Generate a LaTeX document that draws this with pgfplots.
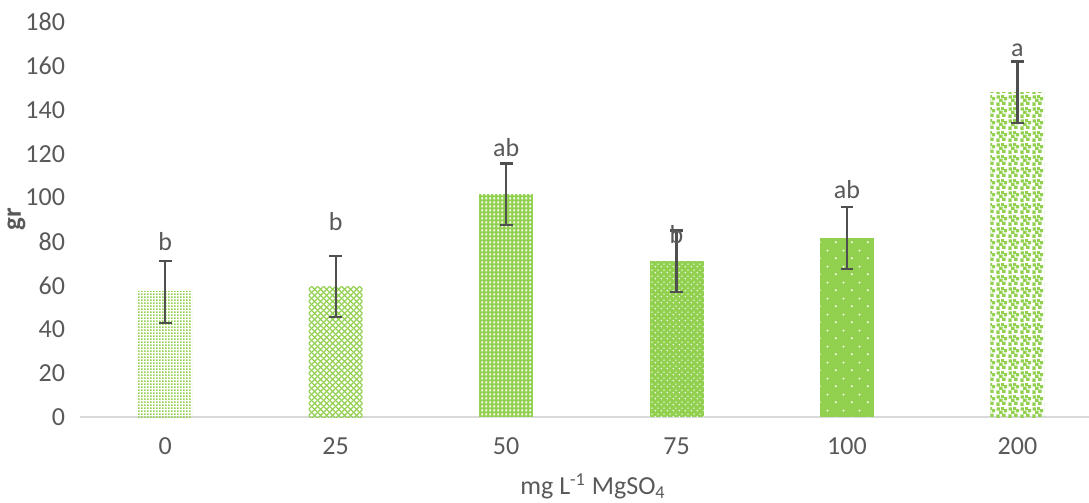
\documentclass[border=0pt]{standalone}
\usepackage{fontspec}
\setmainfont{Carlito}
\usepackage{pgfplots}
\pgfplotsset{compat=1.18}
\usetikzlibrary{patterns.meta}
\definecolor{grn}{HTML}{92D050}
\definecolor{txt}{HTML}{595959}
\definecolor{errc}{HTML}{505050}
\definecolor{axc}{HTML}{D9D9D9}
\tikzdeclarepattern{name=pA, type=uncolored, bounding box={(0,0) and (1.5pt,1.5pt)}, tile size={(1.5pt,1.5pt)},
  code={\fill (0,0) rectangle (1.0pt,1.0pt);}}
\tikzdeclarepattern{name=pB, type=uncolored, bounding box={(0,0) and (3pt,3pt)}, tile size={(3pt,3pt)},
  code={\draw[line width=0.75pt] (-0.5pt,-0.5pt) -- (3.5pt,3.5pt); \draw[line width=0.75pt] (-0.5pt,3.5pt) -- (3.5pt,-0.5pt);}}
\tikzdeclarepattern{name=pC, type=uncolored, bounding box={(0,0) and (2pt,1.8pt)}, tile size={(2pt,1.8pt)},
  code={\fill (0.8pt,0.4pt) rectangle (1.9pt,1.5pt);}}
\tikzdeclarepattern{name=pD, type=uncolored, bounding box={(0,0) and (3pt,3pt)}, tile size={(3pt,3pt)},
  code={\fill (0.75pt,0.75pt) circle (0.45pt); \fill (2.25pt,2.25pt) circle (0.45pt);}}
\tikzdeclarepattern{name=pE, type=uncolored, bounding box={(0,0) and (8pt,8pt)}, tile size={(8pt,8pt)},
  code={\fill (2pt,2pt) circle (0.55pt); \fill (6pt,6pt) circle (0.55pt);}}
\tikzdeclarepattern{name=pF, type=uncolored, bounding box={(0,0) and (6pt,6pt)}, tile size={(6pt,6pt)},
  code={\fill (0.2pt,0.1pt) rectangle ++(1.8pt,1.8pt);
        \fill (3.3pt,0.6pt) rectangle ++(1.8pt,1.8pt);
        \fill (1.7pt,2.2pt) rectangle ++(1.8pt,1.8pt);
        \fill (4.2pt,3.0pt) rectangle ++(1.8pt,1.8pt);
        \fill (0.3pt,4.0pt) rectangle ++(1.8pt,1.8pt);
        \fill (2.7pt,4.3pt) rectangle ++(1.6pt,1.6pt);}}
\pgfplotsset{eb/.style={bar shift=0pt, draw=none,
  error bars/.cd, y dir=both, y explicit,
  error bar style={errc, line width=1.1pt},
  error mark options={errc, rotate=90, mark size=3.2pt, line width=1.1pt}}}
\newcommand{\lf}{\fontsize{13}{15}\selectfont}
\begin{document}
\begin{tikzpicture}
\begin{axis}[
  scale only axis, width=504.5pt, height=197.5pt,
  ybar, bar width=27pt,
  xmin=-0.5, xmax=5.42, ymin=0, ymax=180,
  axis x line=bottom, axis y line=left,
  y axis line style={draw=none},
  x axis line style={draw=axc, line width=0.8pt, -},
  xtick={0,1,2,3,4,5}, xticklabels={0,25,50,75,100,200},
  ytick={0,20,...,180},
  major tick length=0pt,
  tick label style={font=\lf, text=txt},
  xticklabel style={yshift=-7pt},
  yticklabel style={xshift=-4pt},
  /pgf/number format/assume math mode=true,
  xlabel={mg L\textsuperscript{-1} MgSO\textsubscript{4}},
  xlabel style={at={(axis cs:2.51,0)}, anchor=north, yshift=-25pt, font=\lf, text=txt},
  ylabel={\textbf{gr}},
  ylabel style={at={(axis description cs:-0.047,0.5)}, anchor=south, font=\fontsize{13.5}{15}\selectfont, text=txt},
  clip=false,
]
\addplot[pattern={pA}, pattern color=grn, eb] coordinates {(0,57) +- (0,14)};
\addplot[pattern={pB}, pattern color=grn, eb] coordinates {(1,59.5) +- (0,14)};
\addplot[preaction={fill=grn}, pattern={pC}, pattern color=white, eb] coordinates {(2,101.5) +- (0,14)};
\addplot[preaction={fill=grn}, pattern={pD}, pattern color=white, eb] coordinates {(3,71) +- (0,14)};
\addplot[preaction={fill=grn}, pattern={pE}, pattern color=white, eb] coordinates {(4,81.6) +- (0,14)};
\addplot[pattern={pF}, pattern color=grn, eb] coordinates {(5,148) +- (0,14)};
\node[font=\lf, text=txt] at (axis cs:0,79.8) {b};
\node[font=\lf, text=txt] at (axis cs:1,88.9) {b};
\node[font=\lf, text=txt] at (axis cs:2,123) {ab};
\node[font=\lf, text=txt] at (axis cs:3,83) {b};
\node[font=\lf, text=txt] at (axis cs:4,103.5) {ab};
\node[font=\lf, text=txt] at (axis cs:5,167.3) {a};
\coordinate (bl) at (rel axis cs:0,0);
\coordinate (tr) at (rel axis cs:1,1);
\end{axis}
\pgfresetboundingbox
\useasboundingbox ([xshift=-40pt, yshift=-42.5pt]bl) rectangle ([yshift=11pt]tr);
\end{tikzpicture}
\end{document}
